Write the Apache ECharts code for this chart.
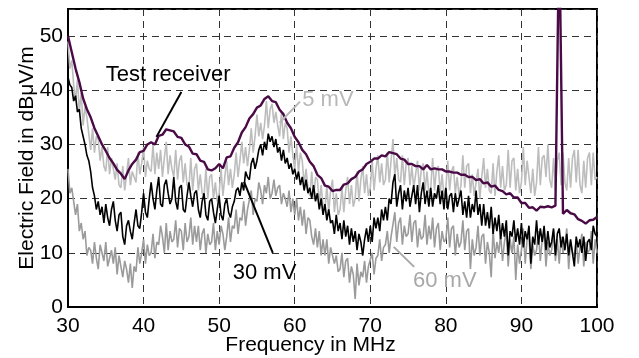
<!DOCTYPE html>
<html>
<head>
<meta charset="utf-8">
<script src="https://cdn.jsdelivr.net/npm/echarts@6/dist/echarts.min.js"></script>
<style>
  html, body { margin: 0; padding: 0; background: #fff; }
  #chart { width: 639px; height: 358px; }
</style>
</head>
<body>
<div id="chart"></div>
<script>
// sample grids (MHz): noisy traces every 0.25 MHz, receiver every 0.5 MHz
var freqFine = [];
for (var f = 30; f <= 100.001; f += 0.25) freqFine.push(+f.toFixed(2));
var freqCoarse = [];
for (var f2 = 30; f2 <= 100.001; f2 += 0.5) freqCoarse.push(+f2.toFixed(1));

// test receiver (purple), on freqCoarse
var recv = [
  50, 47, 44, 41.5, 38.5, 36.5, 35, 33, 31.5, 30, 28.8, 27.5, 26.5, 25.3, 24.6, 23.6,
  25.2, 26.4, 27.2, 28.6, 28.8, 30, 30.4, 30, 31.6, 31.8, 32.8, 32.6, 32.4, 31.4, 31.2, 30,
  29.6, 28.3, 28.2, 27, 26.8, 25.4, 25.2, 25.6, 26.4, 25.6, 27.6, 27.8, 29.4, 30.4, 32.2, 33.2,
  34.8, 35.6, 36.8, 37.2, 38.4, 38.9, 38, 37.8, 36.4, 35.6, 34, 33, 31.4, 30.4, 29, 28.2,
  26.8, 26, 24.4, 23.8, 22.4, 22.2, 21.4, 21.6, 21.6, 22.6, 22.8, 23.6, 24, 25, 25.4, 26.4,
  26.8, 27.4, 27.4, 28, 27.8, 28.6, 28.4, 28.2, 27.4, 27.2, 26.4, 26.4, 26, 26, 25.4, 26.2,
  25.4, 25.6, 25.4, 25.4, 25, 25, 24.8, 24.8, 24.4, 24.4, 24, 24, 23.4, 23.6, 22.8, 23,
  22.2, 22.4, 21.6, 21.4, 20.8, 21, 20.2, 20.2, 19.2, 19.2, 18.3, 18.4, 17.8, 18.5, 18.4, 18.6,
  18.4, 18.7, 70, 17.2, 17.9, 17.3, 17.1, 16.2, 15.9, 15.4, 16, 16.1, 16.6
];

// 5 mV (light grey), on freqFine, four values per MHz
var mv5 = [
  49, 44, 45.5, 41,   38, 42, 36, 39.5,   33.5, 37, 35, 32,   29, 33, 28.5, 31.5,
  31, 27, 29.5, 26,   25, 29.5, 24.5, 27.5,   27.5, 23.5, 26.5, 22.5,   22, 26, 21.5, 24.5,
  27.5, 22.5, 25, 24,   23, 28.5, 24.5, 26.5,   29.5, 24, 27, 25.5,   25, 30, 24.5, 28.5,
  25.5, 29, 24, 27.5,   30.5, 24.5, 28, 25.5,   24, 29, 23.5, 27,   28, 23, 26.5, 22.5,
  22, 27.5, 21.5, 25.5,   26.5, 21.5, 24.5, 21,   20.5, 25.5, 20, 24,   24.5, 20, 23, 19.5,
  21, 25.5, 20.5, 24,   27, 22.5, 25.5, 22,   24.5, 28.5, 24, 27,   30.5, 26.5, 29.5, 26,
  29, 33, 28.5, 31.5,   35.5, 31.5, 34, 31,   33.5, 38, 33, 36.5,   37.5, 34, 36, 33.5,
  31.5, 36, 31, 34,   33, 28.5, 31.5, 28,   25.5, 30, 25, 28.5,   27, 22.5, 25.5, 22,
  20.5, 25, 20, 24,   23.5, 19, 22.5, 18.5,   18, 22.5, 17.5, 21.5,   23.5, 17.5, 21, 17,
  18, 22, 17.5, 21.5,   24, 19, 22.5, 18.5,   20, 25, 19.5, 23.5,   26, 21, 24.5, 20.5,
  22, 27, 21.5, 25.5,   28, 23, 26.5, 22.5,   23.5, 28.5, 23, 27,   31, 24, 27.5, 23.5,
  23, 28, 22.5, 26.5,   27.5, 22.5, 26, 22,   22, 27, 21.5, 25.5,   26.5, 21.5, 25, 21,
  22, 27.5, 21.5, 25.5,   26, 21, 24.5, 20.5,   22, 27, 21.5, 25,   26, 21, 24, 20.5,
  22.5, 28, 22, 26,   26.5, 21, 24.5, 20.5,   20.5, 25.5, 20, 24,   27.5, 22, 25.5, 21.5,
  21, 26.5, 20.5, 25,   28, 22, 26, 21.5,   22.5, 29, 22, 27,   27.5, 21.5, 25.5, 21,
  23, 29.5, 22.5, 27,   27, 21, 25.5, 20.5,   23, 29.5, 22.5, 27.5,   28, 24, 30, 23.5,
  22, 27.5, 21.5, 27,   28.5, 22.5, 28.5, 23,   21.5, 27.5, 22, 27.5,   29, 23, 29, 22.5,
  21, 27, 22, 27.5,   28.5, 22.5, 28.5, 23.5,
  24
];

// 30 mV (black), on freqFine
var mv30 = [
  42.4, 41, 40.5, 38,   39, 36, 36.5, 33,   33, 30, 28, 27,   25, 22, 20.5, 18,
  19.5, 17, 18.5, 15.5,   19, 16.5, 15, 18,   19.5, 16, 14, 17,   17.5, 13, 11.5, 15,
  16, 14, 12.5, 15.5,   18, 15, 14.5, 17.5,   21, 17.5, 16.5, 20,   23, 20, 18, 21.5,
  24, 19, 18.5, 22.5,   23.5, 21, 19, 20,   24, 19.5, 18, 22,   22.5, 18, 17.5, 20.5,
  23, 20.5, 18.5, 21,   21.5, 18, 16.5, 19.5,   21, 17, 16, 19.5,   20, 17.5, 15.5, 18,
  20.5, 17, 16, 19,   20, 17.5, 16.5, 18.5,   19.5, 21.5, 22, 20.5,   23, 21.5, 25, 24,
  23.5, 26.5, 27.5, 25.5,   27, 29, 30, 28,   30.5, 29, 32, 30.5,   31.5, 29.5, 31, 28.5,
  29.5, 27, 29, 26.5,   27.5, 25.5, 26.5, 24.5,   25.5, 23.5, 25, 22.5,   24, 21.5, 23.5, 21,
  22, 20, 22.5, 19.5,   21, 18, 20, 17,   19, 16, 18, 15.5,   16, 13.5, 17, 14,
  15.5, 12.5, 16, 13,   15, 11.5, 14.5, 12,   14, 10.5, 13.5, 12,   9.5, 12.5, 14.5, 12,
  15, 12, 16.5, 14.5,   16.5, 14, 18, 16,   18.5, 16, 20, 19,   23, 24.5, 18.5, 21,
  22.5, 18, 21.5, 19.5,   22, 18.5, 20.5, 22.5,   19, 22.5, 17.5, 21,   23, 19, 21.5, 18.5,
  22, 18.5, 21, 20,   22.5, 19, 21.5, 18,   22, 18, 20.5, 21,   17.5, 21, 18.5, 20,
  21.5, 17, 19.5, 16.5,   20.5, 16.5, 19, 17.5,   21.5, 17, 19, 15,   19, 15, 17.5, 14.5,
  18.5, 13.5, 16.5, 14,   17, 12.5, 15.5, 13,   16, 9.5, 14, 13,   16, 12, 14.5, 11.5,
  15.5, 11, 14, 12.5,   15, 8, 13, 11.5,   16, 11.5, 14.5, 12,   15, 10.5, 14, 11,
  12, 14.5, 9.5, 13.5,   14.5, 11, 13, 10.5,   13.5, 9.5, 12.5, 10,   7.5, 13, 11, 12.5,
  10, 13, 8.5, 12,   12.5, 10.5, 15, 13.5,
  13
];

// 60 mV (dark grey), on freqFine
var mv60 = [
  25.5, 21, 22, 19.5,   17, 19, 14, 15.5,   12.5, 14, 9.5, 11,   10.5, 8, 12, 9,
  7, 11.5, 10, 8.5,   12, 7.5, 9, 10.5,   8, 11, 6, 9.5,   9.5, 5.5, 8.5, 7,
  4.5, 8, 3.5, 7.5,   6.5, 11, 8, 10,   12.5, 8, 11.5, 9.5,   10, 13.5, 9, 12,
  11.5, 15, 13, 10,   15.5, 10.5, 14, 12,   12.5, 16, 11, 14.5,   14, 10.5, 15.5, 12,
  13, 16.5, 11.5, 15,   12, 15, 10.5, 13.5,   14.5, 10, 13.5, 11.5,   12, 15.5, 10.5, 14,
  11.5, 15, 13.5, 10.5,   13, 16.5, 12, 15,   14.5, 18, 13.5, 16.5,   16, 19.5, 15, 18,
  18, 21.5, 17, 20,   19.5, 23, 21.5, 19,   22.5, 21, 24, 20,   21, 23.5, 20.5, 22,
  22.5, 19, 21, 20,   18.5, 21.5, 17.5, 20,   17, 20, 16, 18.5,   15, 18, 13.5, 16.5,
  16, 13, 11.5, 14.5,   11, 14, 9.5, 12.5,   9.5, 12.5, 8, 11,   11, 8, 9.5, 6.5,
  7, 10, 5.5, 8.5,   9, 4.5, 7.5, 6,   1.5, 8, 4, 6.5,   5.5, 8.5, 4.5, 7.5,
  7.5, 10, 6, 9,   9.5, 12.5, 8.5, 11,   11.5, 14, 10, 13,   13, 17.5, 12, 15.5,
  16.5, 11.5, 15, 13,   13.5, 17, 12, 15.5,   16, 11, 14.5, 12.5,   13, 17, 11.5, 15,
  12.5, 16.5, 11, 14.5,   15.5, 10.5, 14, 12,   12.5, 16.5, 11, 14.5,   15, 9.5, 13.5, 11,
  12, 16, 10.5, 14,   14.5, 7, 12.5, 9.5,   11, 15, 9.5, 13,   13.5, 8, 12, 10,
  5.5, 14.5, 9, 12,   10, 13.5, 8.5, 12,   14, 7.5, 12.5, 10,   13, 5, 11.5, 8,
  10.5, 14.5, 8, 12.5,   13, 7, 11.5, 9.5,   10.5, 14, 8.5, 12.5,   13.5, 7.5, 12, 9.5,
  10.5, 14, 8.5, 12.5,   8, 13, 10, 11.5,   14.5, 7, 12, 10,   9.5, 12.5, 8, 11,
  13.5, 7.5, 12, 10,   10.5, 14, 8, 12.5,
  10
];

// annotation texts and leader lines, in data units [MHz, dB]
var notes = [
  { text: 'Test receiver', color: '#000', at: [35.0, 42.8], from: [45.0, 39.7], to: [41.7, 31.4] },
  { text: '5 mV', color: '#b8b8b8', at: [61.0, 38.2], from: [60.7, 37.9], to: [58.0, 34.0] },
  { text: '30 mV', color: '#000', at: [51.8, 6.3], from: [57.1, 10.0], to: [53.3, 23.1] },
  { text: '60 mV', color: '#a8a8a8', at: [75.65, 4.8], from: [75.8, 7.4], to: [73.1, 11.1] }
];

function pairs(xs, vals) {
  return vals.map(function (v, i) { return [xs[i], v]; });
}

var chart = echarts.init(document.getElementById('chart'));
var fontFam = '"Liberation Sans", Arial, sans-serif';
var option = {
  animation: false,
  backgroundColor: '#fff',
  grid: {
    left: 68, right: 42, top: 9, bottom: 51,
    containLabel: false, outerBoundsMode: 'none',
    show: true, borderColor: '#000', borderWidth: 2
  },
  xAxis: {
    type: 'value', min: 30, max: 100, interval: 10,
    name: 'Frequency in MHz', nameLocation: 'middle', nameGap: 28, nameMoveOverlap: false,
    nameTextStyle: { color: '#000', fontSize: 21, fontFamily: fontFam, padding: [0, 44, 0, 0] },
    axisLine: { lineStyle: { color: '#000', width: 2 } },
    axisTick: { show: false },
    axisLabel: { color: '#000', fontSize: 21, fontFamily: fontFam, margin: 9 },
    splitLine: { show: true, lineStyle: { color: '#333', type: [7, 5], width: 1 } }
  },
  yAxis: {
    type: 'value', min: 0, max: 55, interval: 10,
    name: 'Electric Field in dBμV/m', nameLocation: 'middle', nameGap: 30, nameMoveOverlap: false,
    nameTextStyle: { color: '#000', fontSize: 21, fontFamily: fontFam },
    axisLine: { show: true, lineStyle: { color: '#000', width: 2 } },
    axisTick: { show: false },
    axisLabel: { color: '#000', fontSize: 21, fontFamily: fontFam, margin: 5, showMaxLabel: false },
    splitLine: { show: true, lineStyle: { color: '#333', type: [7, 5], width: 1 } }
  },
  series: [
    { name: '5 mV', type: 'line', data: pairs(freqFine, mv5), showSymbol: false, clip: true,
      lineStyle: { color: '#bdbdbd', width: 1.6 } },
    { name: '60 mV', type: 'line', data: pairs(freqFine, mv60), showSymbol: false, clip: true,
      lineStyle: { color: '#9b9b9b', width: 1.6 } },
    { name: '30 mV', type: 'line', data: pairs(freqFine, mv30), showSymbol: false, clip: true,
      lineStyle: { color: '#000', width: 1.6 } },
    { name: 'Test receiver', type: 'line', data: pairs(freqCoarse, recv), showSymbol: false, clip: true,
      lineStyle: { color: '#4a0a46', width: 2.4 } }
  ]
};
chart.setOption(option);

var g = [];
notes.forEach(function (n) {
  var p = chart.convertToPixel({ gridIndex: 0 }, n.at);
  var a = chart.convertToPixel({ gridIndex: 0 }, n.from);
  var b = chart.convertToPixel({ gridIndex: 0 }, n.to);
  g.push({ type: 'line', shape: { x1: a[0], y1: a[1], x2: b[0], y2: b[1] },
    style: { stroke: n.color, lineWidth: 2 }, z: 100 });
  g.push({ type: 'text', x: p[0], y: p[1], z: 100,
    style: { text: n.text, fill: n.color, font: '22px ' + fontFam, textVerticalAlign: 'middle' } });
});
chart.setOption({ graphic: g });
</script>
</body>
</html>
